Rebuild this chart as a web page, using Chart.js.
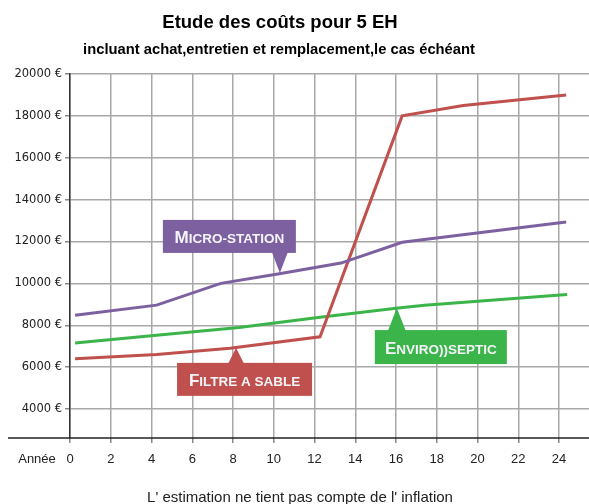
<!DOCTYPE html>
<html>
<head>
<meta charset="utf-8">
<script src="https://cdn.jsdelivr.net/npm/chart.js@4/dist/chart.umd.min.js"></script>
<style>
  html, body { margin: 0; padding: 0; background: #ffffff; }
  #wrap { width: 589px; height: 504px; position: relative; }
</style>
</head>
<body>
<div id="wrap"><canvas id="c" width="589" height="504"></canvas></div>
<script>
// ---- Data ----
const titleText = "Etude des coûts pour 5 EH";
const subtitleText = "incluant achat,entretien et remplacement,le cas échéant";
const footerText = "L' estimation ne tient pas compte de l' inflation";
const xAxisTitle = "Année";

const xTickValues = [0, 2, 4, 6, 8, 10, 12, 14, 16, 18, 20, 22, 24];
const yTickValues = [4000, 6000, 8000, 10000, 12000, 14000, 16000, 18000, 20000];

const seriesNames = ["Micro-station", "Filtre a sable", "Enviro))septic"];

const microYears  = [0.25, 4.25, 7.4, 10.2, 13.3, 16.3, 24.35];
const microValues = [8480, 8960, 10000, 10450, 10970, 11960, 12930];

const filtreYears  = [0.25, 4.25, 7.85, 12.27, 16.3, 19.3, 24.35];
const filtreValues = [6400, 6600, 6900, 7450, 18000, 18500, 19000];

const enviroYears  = [0.25, 4.25, 8.3, 12.27, 16.0, 17.4, 24.4];
const enviroValues = [7150, 7520, 7890, 8380, 8810, 8960, 9470];

// callout labels: big first letter + rest, anchored on a point of each series
const calloutFirst = ["M", "F", "E"];
const calloutRest  = ["ICRO-STATION", "ILTRE A SABLE", "NVIRO))SEPTIC"];
const calloutYears  = [10.3, 8.15, 16.04];
const calloutValues = [10500, 6920, 8820];

// ---- Styles ----
const colors = ["#7d60a0", "#c0504d", "#3bb44a"];
const calloutGeom = [
  // box offsets relative to the anchor pixel: left, right, top, bottom, pointer half-base
  { l: -117, r: 16, t: -53, b: -20, hb: 8 },
  { l: -59, r: 76, t: 15, b: 48, hb: 8 },
  { l: -22, r: 110, t: 22, b: 56, hb: 9 }
];

const X_MIN = 0, X_MAX = 25.47;
const Y_MIN = 2615, Y_MAX = 20000;

function toPoints(xs, ys) { return xs.map((x, i) => ({ x: x, y: ys[i] })); }

const textPlugin = {
  id: 'texts',
  afterDraw(chart) {
    const ctx = chart.ctx;
    const area = chart.chartArea;
    ctx.save();
    ctx.fillStyle = '#000';
    ctx.textAlign = 'center';
    ctx.textBaseline = 'alphabetic';
    ctx.font = 'bold 18.5px "Liberation Sans", Arial, sans-serif';
    ctx.fillText(titleText, 280, 27.5);
    ctx.font = 'bold 14.75px "Liberation Sans", Arial, sans-serif';
    ctx.fillText(subtitleText, 279, 54);
    ctx.fillStyle = '#222';
    ctx.font = '15px "Liberation Sans", Arial, sans-serif';
    ctx.fillText(footerText, 300, 502);
    ctx.font = '13px "Liberation Sans", Arial, sans-serif';
    ctx.fillText(xAxisTitle, 37, 463);
    // x axis line extending to the left
    ctx.strokeStyle = '#222';
    ctx.lineWidth = 1.5;
    ctx.beginPath();
    ctx.moveTo(8, area.bottom);
    ctx.lineTo(chart.width, area.bottom);
    ctx.stroke();
    ctx.restore();
  },
  afterDatasetsDraw(chart) {
    const ctx = chart.ctx;
    const xs = chart.scales.x, ys = chart.scales.y;
    ctx.save();
    calloutFirst.forEach((first, i) => {
      const px = xs.getPixelForValue(calloutYears[i]);
      const py = ys.getPixelForValue(calloutValues[i]);
      const g = calloutGeom[i];
      const left = px + g.l, right = px + g.r, top = py + g.t, bottom = py + g.b;
      ctx.fillStyle = colors[i];
      ctx.fillRect(left, top, right - left, bottom - top);
      ctx.beginPath();
      const baseY = g.t < 0 ? bottom : top;
      ctx.moveTo(px - g.hb, baseY + (g.t < 0 ? -1 : 1));
      ctx.lineTo(px + g.hb, baseY + (g.t < 0 ? -1 : 1));
      ctx.lineTo(px, py);
      ctx.closePath();
      ctx.fill();
      // text
      const bigFont = 'bold 17px "Liberation Sans", Arial, sans-serif';
      const smallFont = 'bold 13.5px "Liberation Sans", Arial, sans-serif';
      ctx.font = bigFont;
      const w1 = ctx.measureText(first).width;
      ctx.font = smallFont;
      const w2 = ctx.measureText(calloutRest[i]).width;
      const tw = w1 + w2;
      const sx = (left + right) / 2 - tw / 2;
      const by = (top + bottom) / 2 + 6.5;
      ctx.fillStyle = '#f4f4f8';
      ctx.textAlign = 'left';
      ctx.textBaseline = 'alphabetic';
      ctx.font = bigFont;
      ctx.fillText(first, sx, by);
      ctx.font = smallFont;
      ctx.fillText(calloutRest[i], sx + w1, by);
    });
    ctx.restore();
  }
};

new Chart(document.getElementById('c'), {
  type: 'line',
  data: {
    datasets: [
      { label: seriesNames[0], data: toPoints(microYears, microValues), borderColor: colors[0] },
      { label: seriesNames[1], data: toPoints(filtreYears, filtreValues), borderColor: colors[1] },
      { label: seriesNames[2], data: toPoints(enviroYears, enviroValues), borderColor: colors[2] }
    ]
  },
  options: {
    responsive: false,
    animation: false,
    layout: { padding: { top: 74, left: 0, right: 0, bottom: 0 } },
    elements: {
      line: { borderWidth: 3, tension: 0, fill: false },
      point: { radius: 0, hoverRadius: 0 }
    },
    plugins: {
      legend: { display: false },
      tooltip: { enabled: false },
      title: { display: false }
    },
    scales: {
      x: {
        type: 'linear',
        min: X_MIN, max: X_MAX,
        afterBuildTicks(scale) { scale.ticks = xTickValues.map(v => ({ value: v })); },
        afterFit(scale) { scale.height = 66; },
        ticks: {
          callback: v => String(v),
          color: '#222',
          padding: 9,
          maxRotation: 0,
          autoSkip: false,
          font: { family: '"Liberation Sans", Arial, sans-serif', size: 13 }
        },
        grid: { color: '#a8a8a8', lineWidth: 1.5, tickLength: 5, tickColor: '#888' },
        border: { display: false }
      },
      y: {
        type: 'linear',
        min: Y_MIN, max: Y_MAX,
        afterBuildTicks(scale) { scale.ticks = yTickValues.map(v => ({ value: v })); },
        afterFit(scale) { scale.width = 70; },
        ticks: {
          callback: v => v + ' €',
          color: '#222',
          padding: 3,
          autoSkip: false,
          font: { family: '"DejaVu Sans", Verdana, sans-serif', size: 11.5 }
        },
        grid: { color: '#a8a8a8', lineWidth: 1.5, tickLength: 5, tickColor: '#888' },
        border: { display: true, color: '#333', width: 1.5 }
      }
    }
  },
  plugins: [textPlugin]
});
</script>
</body>
</html>
